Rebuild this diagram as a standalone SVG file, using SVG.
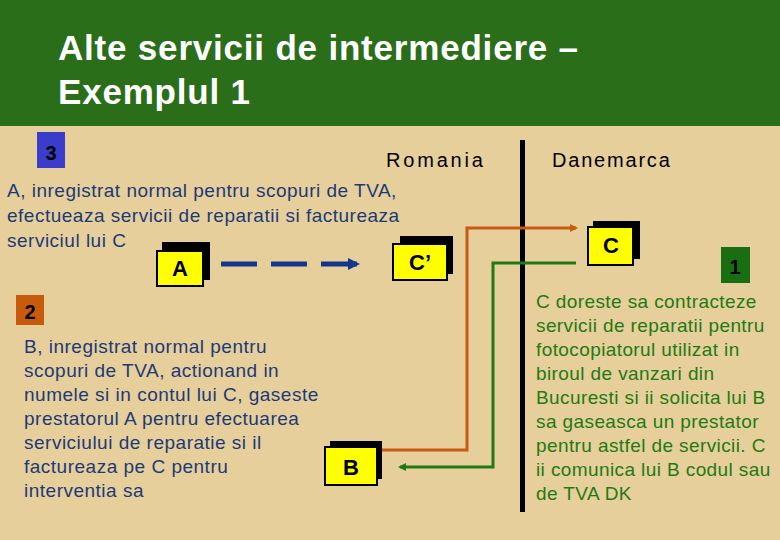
<svg xmlns="http://www.w3.org/2000/svg" width="780" height="540" viewBox="0 0 780 540">
<style>
text{font-family:"Liberation Sans",Arial,sans-serif}
.t{font-size:19px;fill:#1c3a78;letter-spacing:0.5px}
.g{font-size:19px;fill:#1f7a14;letter-spacing:0.4px}
.bx{fill:#ffff00;stroke:#000;stroke-width:2}
.lb{font-size:22px;fill:#000;text-anchor:middle;font-weight:bold}
</style>
<defs>
<marker id="mo" markerWidth="8" markerHeight="8" refX="6" refY="4" orient="auto" markerUnits="userSpaceOnUse" viewBox="0 0 8 8"><path d="M0,0L8,4L0,8z" fill="#c85a14"/></marker>
<marker id="mg" markerWidth="8" markerHeight="8" refX="6" refY="4" orient="auto" markerUnits="userSpaceOnUse" viewBox="0 0 8 8"><path d="M0,0L8,4L0,8z" fill="#1f7a14"/></marker>
<marker id="mb" markerWidth="12" markerHeight="12" refX="10" refY="6" orient="auto" markerUnits="userSpaceOnUse" viewBox="0 0 12 12"><path d="M0,0L12,6L0,12z" fill="#12378a"/></marker>
</defs>
<rect width="780" height="540" fill="#e6cf9b"/>
<rect width="780" height="126" fill="#2a6e1a"/>
<text x="58" y="60" font-size="35" font-weight="bold" fill="#fff" letter-spacing="0.8">Alte servicii de intermediere –</text>
<text x="58" y="104" font-size="35" font-weight="bold" fill="#fff" letter-spacing="0.8">Exemplul 1</text>
<rect x="37" y="132" width="28" height="36" fill="#3a3ccc"/>
<text x="51" y="160" font-size="20" fill="#000" text-anchor="middle" font-weight="bold">3</text>
<text x="386" y="167" font-size="20" fill="#000" letter-spacing="2.8">Romania</text>
<text x="552" y="167" font-size="20" fill="#000" letter-spacing="1.8">Danemarca</text>
<rect x="520" y="140" width="5" height="372" fill="#000"/>
<text class="t" x="7" y="197">A, inregistrat normal pentru scopuri de TVA,</text>
<text class="t" x="7" y="222">efectueaza servicii de reparatii si factureaza</text>
<text class="t" x="7" y="247">serviciul lui C</text>
<rect x="16" y="295" width="28" height="30" fill="#c85a0c"/>
<text x="30" y="319" font-size="20" fill="#000" text-anchor="middle" font-weight="bold">2</text>
<text class="t" x="24" y="353">B, inregistrat normal pentru</text>
<text class="t" x="24" y="377">scopuri de TVA, actionand in</text>
<text class="t" x="24" y="401">numele si in contul lui C, gaseste</text>
<text class="t" x="24" y="425">prestatorul A pentru efectuarea</text>
<text class="t" x="24" y="449">serviciului de reparatie si il</text>
<text class="t" x="24" y="473">factureaza pe C pentru</text>
<text class="t" x="24" y="497">interventia sa</text>
<rect x="721" y="247" width="29" height="36" fill="#1a6e12"/>
<text x="735" y="274" font-size="20" fill="#000" text-anchor="middle" font-weight="bold">1</text>
<text class="g" x="536" y="308">C doreste sa contracteze</text>
<text class="g" x="536" y="332">servicii de reparatii pentru</text>
<text class="g" x="536" y="356">fotocopiatorul utilizat in</text>
<text class="g" x="536" y="380">biroul de vanzari din</text>
<text class="g" x="536" y="404">Bucuresti si ii solicita lui B</text>
<text class="g" x="536" y="428">sa gaseasca un prestator</text>
<text class="g" x="536" y="452">pentru astfel de servicii. C</text>
<text class="g" x="536" y="476">ii comunica lui B codul sau</text>
<text class="g" x="536" y="500">de TVA DK</text>
<g id="connectors" fill="none">
<path d="M221,264H358" stroke="#12378a" stroke-width="5" stroke-dasharray="36,14" marker-end="url(#mb)"/>
<path d="M378,450H467V228H576" stroke="#c85a14" stroke-width="3" marker-end="url(#mo)"/>
<path d="M576,263H493V467H400" stroke="#1f7a14" stroke-width="3" marker-end="url(#mg)"/>
</g>
<g id="A"><rect x="162" y="242" width="48" height="38" fill="#000"/><rect class="bx" x="157" y="251" width="46" height="35"/><text class="lb" x="180" y="276">A</text></g>
<g id="Cp"><rect x="400" y="236" width="53" height="38" fill="#000"/><rect class="bx" x="393" y="244" width="54" height="36"/><text class="lb" x="420" y="270">C’</text></g>
<g id="C"><rect x="593" y="221" width="47" height="38" fill="#000"/><rect class="bx" x="588" y="227" width="45" height="38"/><text class="lb" x="611" y="253">C</text></g>
<g id="B"><rect x="330" y="441" width="52" height="38" fill="#000"/><rect class="bx" x="325" y="447" width="52" height="38"/><text class="lb" x="351" y="475">B</text></g>
</svg>
